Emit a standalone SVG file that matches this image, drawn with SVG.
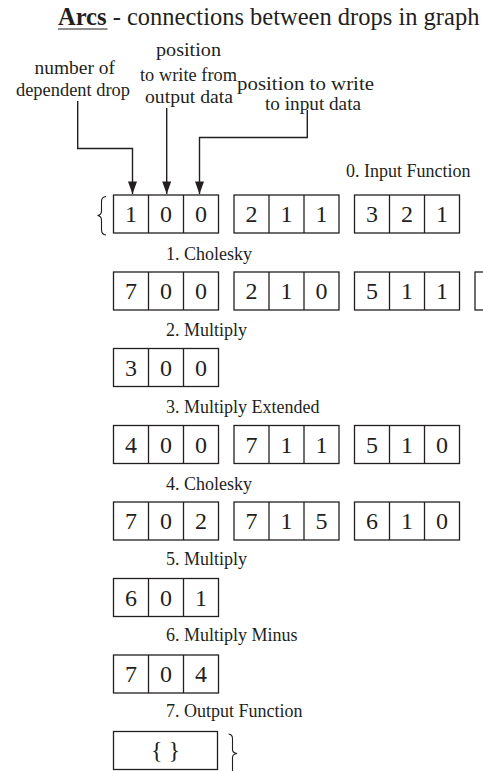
<svg xmlns="http://www.w3.org/2000/svg" width="483" height="771" viewBox="0 0 483 771">
  <style>
    .t { font-family: "Liberation Serif", "Times New Roman", serif; fill: #231f20; }
    .title { font-size: 24.5px; }
    .lbl { font-size: 19.5px; }
    .cap { font-size: 18px; }
    .num { font-size: 24px; text-anchor: middle; }
    .box { fill: #fff; stroke: #231f20; stroke-width: 1.3; }
    .sep { stroke: #231f20; stroke-width: 1.3; }
    .wire { fill: none; stroke: #231f20; stroke-width: 1.4; }
    .brace { fill: none; stroke: #231f20; stroke-width: 1.1; }
  </style>
  <defs>
    <!-- three-cell arc record: 105 x 38 -->
    <g id="rec">
      <rect class="box" x="0" y="0" width="105" height="38"/>
      <line class="sep" x1="35" y1="0" x2="35" y2="38"/>
      <line class="sep" x1="70" y1="0" x2="70" y2="38"/>
    </g>
    <!-- solid arrowhead, drawn along +x so orient="auto" turns it with the line -->
    <marker id="arr" viewBox="0 0 14 10" refX="14" refY="5" markerWidth="13" markerHeight="9" markerUnits="userSpaceOnUse" orient="auto">
      <path d="M0,0 L14,5 L0,10 Z" fill="#231f20"/>
    </marker>
  </defs>

  <!-- heading -->
  <g id="heading">
    <text class="t title" x="58" y="25"><tspan font-weight="bold">Arcs</tspan> - connections between drops in graph</text>
    <line x1="58" y1="29" x2="107.5" y2="29" stroke="#231f20" stroke-width="1.2"/>
  </g>

  <!-- field legends -->
  <g id="legend-drop">
    <text class="t lbl" x="34.5" y="73.5" textLength="80.5" lengthAdjust="spacingAndGlyphs">number of</text>
    <text class="t lbl" x="16" y="95.5" textLength="114" lengthAdjust="spacingAndGlyphs">dependent drop</text>
  </g>
  <g id="legend-out">
    <text class="t lbl" x="156" y="55.5" textLength="65" lengthAdjust="spacingAndGlyphs">position</text>
    <text class="t lbl" x="140" y="80.5" textLength="97" lengthAdjust="spacingAndGlyphs">to write from</text>
    <text class="t lbl" x="145" y="102.5" textLength="88" lengthAdjust="spacingAndGlyphs">output data</text>
  </g>
  <g id="legend-in">
    <text class="t lbl" x="237" y="89.5" textLength="137" lengthAdjust="spacingAndGlyphs">position to write</text>
    <text class="t lbl" x="265" y="110" textLength="96" lengthAdjust="spacingAndGlyphs">to input data</text>
  </g>

  <!-- pointers to the first record -->
  <g id="connectors">
    <polyline class="wire" points="77.7,101 77.7,148.5 132.5,148.5 132.5,194" marker-end="url(#arr)"/>
    <polyline class="wire" points="166.7,108 166.7,194" marker-end="url(#arr)"/>
    <polyline class="wire" points="307.3,110 307.3,137.5 199.5,137.5 199.5,194" marker-end="url(#arr)"/>
  </g>

  <!-- opening and closing braces -->
  <g id="brace-open">
    <path class="brace" d="M106,196.5 Q101.5,197 101.5,201.5 L101.5,211 Q101.5,215 97.5,215.5 Q101.5,216 101.5,220 L101.5,230 Q101.5,234.5 106,235"/>
  </g>
  <g id="brace-close">
    <path class="brace" d="M228.5,734 Q232.5,734.5 232.5,738.5 L232.5,749.5 Q232.5,753 237,753.5 Q232.5,754 232.5,757.5 L232.5,772"/>
  </g>

  <!-- 0. Input Function -->
  <g id="drop0">
    <text class="t cap" x="346" y="177">0. Input Function</text>
    <use href="#rec" x="113.5" y="195"/>
    <use href="#rec" x="234" y="195"/>
    <use href="#rec" x="354.5" y="195"/>
    <g class="t num">
      <text x="131" y="222">1</text><text x="166" y="222">0</text><text x="201" y="222">0</text>
      <text x="251.5" y="222">2</text><text x="286.5" y="222">1</text><text x="321.5" y="222">1</text>
      <text x="372" y="222">3</text><text x="407" y="222">2</text><text x="442" y="222">1</text>
    </g>
  </g>

  <!-- 1. Cholesky -->
  <g id="drop1">
    <text class="t cap" x="166" y="260">1. Cholesky</text>
    <use href="#rec" x="113.5" y="272"/>
    <use href="#rec" x="234" y="272"/>
    <use href="#rec" x="354.5" y="272"/>
    <use href="#rec" x="475" y="272"/>
    <g class="t num">
      <text x="131" y="299">7</text><text x="166" y="299">0</text><text x="201" y="299">0</text>
      <text x="251.5" y="299">2</text><text x="286.5" y="299">1</text><text x="321.5" y="299">0</text>
      <text x="372" y="299">5</text><text x="407" y="299">1</text><text x="442" y="299">1</text>
    </g>
  </g>

  <!-- 2. Multiply -->
  <g id="drop2">
    <text class="t cap" x="166" y="336">2. Multiply</text>
    <use href="#rec" x="113.5" y="348.5"/>
    <g class="t num">
      <text x="131" y="375.5">3</text><text x="166" y="375.5">0</text><text x="201" y="375.5">0</text>
    </g>
  </g>

  <!-- 3. Multiply Extended -->
  <g id="drop3">
    <text class="t cap" x="166" y="413">3. Multiply Extended</text>
    <use href="#rec" x="113.5" y="425.5"/>
    <use href="#rec" x="234" y="425.5"/>
    <use href="#rec" x="354.5" y="425.5"/>
    <g class="t num">
      <text x="131" y="452.5">4</text><text x="166" y="452.5">0</text><text x="201" y="452.5">0</text>
      <text x="251.5" y="452.5">7</text><text x="286.5" y="452.5">1</text><text x="321.5" y="452.5">1</text>
      <text x="372" y="452.5">5</text><text x="407" y="452.5">1</text><text x="442" y="452.5">0</text>
    </g>
  </g>

  <!-- 4. Cholesky -->
  <g id="drop4">
    <text class="t cap" x="166" y="489.5">4. Cholesky</text>
    <use href="#rec" x="113.5" y="502"/>
    <use href="#rec" x="234" y="502"/>
    <use href="#rec" x="354.5" y="502"/>
    <g class="t num">
      <text x="131" y="529">7</text><text x="166" y="529">0</text><text x="201" y="529">2</text>
      <text x="251.5" y="529">7</text><text x="286.5" y="529">1</text><text x="321.5" y="529">5</text>
      <text x="372" y="529">6</text><text x="407" y="529">1</text><text x="442" y="529">0</text>
    </g>
  </g>

  <!-- 5. Multiply -->
  <g id="drop5">
    <text class="t cap" x="166" y="565">5. Multiply</text>
    <use href="#rec" x="113.5" y="578.5"/>
    <g class="t num">
      <text x="131" y="605.5">6</text><text x="166" y="605.5">0</text><text x="201" y="605.5">1</text>
    </g>
  </g>

  <!-- 6. Multiply Minus -->
  <g id="drop6">
    <text class="t cap" x="166" y="641">6. Multiply Minus</text>
    <use href="#rec" x="113.5" y="655"/>
    <g class="t num">
      <text x="131" y="682">7</text><text x="166" y="682">0</text><text x="201" y="682">4</text>
    </g>
  </g>

  <!-- 7. Output Function -->
  <g id="drop7">
    <text class="t cap" x="166" y="717">7. Output Function</text>
    <rect class="box" x="113.5" y="731.5" width="104" height="38"/>
    <text class="t num" x="165.5" y="758">{ }</text>
  </g>
</svg>
